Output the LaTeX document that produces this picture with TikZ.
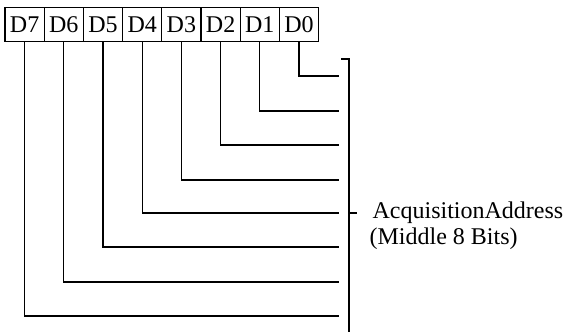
\documentclass[tikz,border=0pt]{standalone}
\usepackage{fontspec}
\setmainfont{Liberation Serif}
\usetikzlibrary{positioning}
\tikzset{bitcell/.style={draw=black, minimum width=19.6pt, minimum height=17.25pt, inner sep=0pt, outer sep=0pt}}
\tikzset{brlabel/.style={anchor=west, inner sep=0pt}}

\begin{document}
\begin{tikzpicture}[x=0.5pt, y=-0.5pt, line width=0.6pt, font=\fontsize{12}{14}\selectfont]
    \newcommand\posB{349}
    \newcommand\posE{339}
    \useasboundingbox (0, 0) rectangle (565, 333);

    \node[bitcell] (D7) at (24.6, 24.5){D7};
    \node[bitcell, right=0pt of D7] (D6){D6};
    \node[bitcell, right=0pt of D6] (D5){D5};
    \node[bitcell, right=0pt of D5] (D4){D4};
    \node[bitcell, right=0pt of D4] (D3){D3};
    \node[bitcell, right=0pt of D3] (D2){D2};
    \node[bitcell, right=0pt of D2] (D1){D1};
    \node[bitcell, right=0pt of D1] (D0){D0};

    \foreach \i/\y in {0/76, 1/111, 2/145, 3/180, 4/213, 5/247, 6/282, 7/316}{
        \coordinate (end\i) at (\posE, \y);
        \draw (D\i.south) |- (end\i);
    }

    \coordinate (btick) at (\posB - 8, 59);
    \coordinate (btop) at (\posB, 59);
    \coordinate (bbot) at (\posB, 332);
    \coordinate (bmid) at (\posB, 213);
    \coordinate (bout) at (\posB + 8, 213);
    \draw (btick) -- (btop) -- (bbot);
    \draw (bmid) -- (bout);

    \node[brlabel] (addr) at (372, 213){AcquisitionAddress};
    \node[brlabel] (bits) at (369, 239){(Middle 8 Bits)};
\end{tikzpicture}
\end{document}
